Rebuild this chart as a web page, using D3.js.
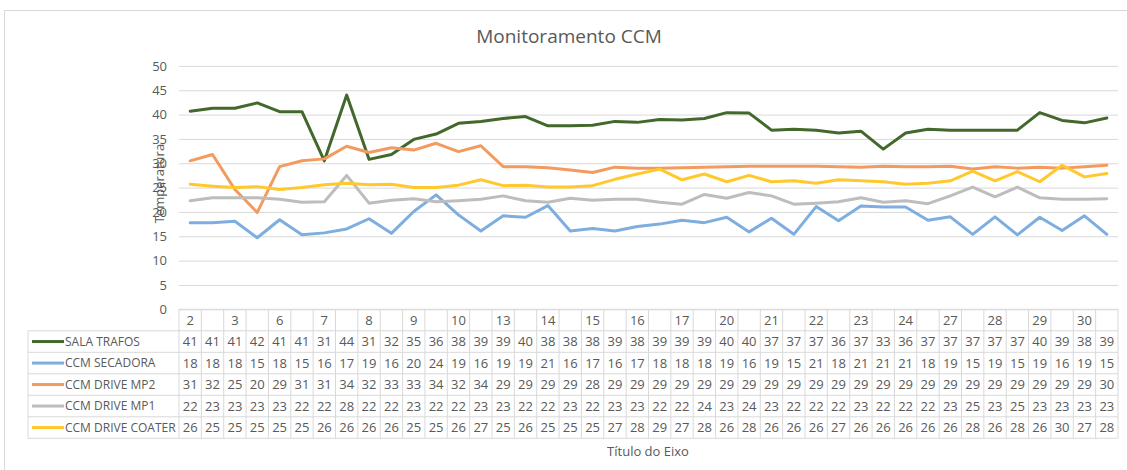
<!DOCTYPE html>
<html>
<head>
<meta charset="utf-8">
<script src="https://cdn.jsdelivr.net/npm/d3@7"></script>
<style>
  body { margin: 0; background: #fff; }
  svg text { font-family: "Open Sans", "Noto Sans", sans-serif; fill: #595959; }
</style>
</head>
<body>
<svg id="chart" width="1127" height="470"></svg>
<script>
// categories (day numbers, every other one blank)
var categories = ["2", "", "3", "", "6", "", "7", "", "8", "", "9", "", "10", "", "13", "", "14", "", "15", "", "16", "",
    "17", "", "20", "", "21", "", "22", "", "23", "", "24", "", "27", "", "28", "", "29", "", "30", ""];

var salaTrafos = [40.7, 41.3, 41.3, 42.4, 40.6, 40.6, 30.5, 44.0, 30.8, 31.8, 34.9, 36.0, 38.2, 38.6, 39.2, 39.6, 37.7, 37.7,
    37.8, 38.6, 38.4, 39.0, 38.9, 39.2, 40.4, 40.3, 36.8, 37.0, 36.8, 36.2, 36.6, 32.9, 36.2, 37.0, 36.8, 36.8, 36.8, 36.8,
    40.4, 38.8, 38.3, 39.3];
var ccmSecadora = [17.8, 17.8, 18.1, 14.7, 18.4, 15.3, 15.7, 16.5, 18.6, 15.6, 20.1, 23.5, 19.4, 16.1, 19.2, 18.9, 21.3, 16.1,
    16.6, 16.1, 17.0, 17.5, 18.3, 17.8, 18.9, 15.9, 18.7, 15.4, 21.1, 18.2, 21.2, 21.0, 21.0, 18.3, 19.0, 15.4, 19.0, 15.3,
    18.9, 16.2, 19.2, 15.4];
var ccmDriveMp2 = [30.5, 31.8, 24.6, 19.9, 29.3, 30.5, 30.9, 33.5, 32.2, 33.2, 32.7, 34.1, 32.4, 33.6, 29.3, 29.3, 29.1, 28.6,
    28.1, 29.2, 29.0, 29.0, 29.1, 29.2, 29.3, 29.4, 29.4, 29.4, 29.4, 29.3, 29.2, 29.4, 29.3, 29.3, 29.4, 28.8, 29.3, 29.0,
    29.2, 29.0, 29.3, 29.6];
var ccmDriveMp1 = [22.3, 22.9, 22.9, 22.9, 22.6, 22.0, 22.1, 27.5, 21.8, 22.4, 22.7, 22.1, 22.3, 22.6, 23.3, 22.3, 22.0, 22.8,
    22.4, 22.6, 22.6, 22.0, 21.6, 23.6, 22.8, 24.0, 23.3, 21.6, 21.8, 22.1, 22.9, 22.0, 22.3, 21.7, 23.3, 25.1, 23.1, 25.1,
    22.9, 22.6, 22.6, 22.7];
var ccmDriveCoater = [25.7, 25.3, 25.0, 25.2, 24.6, 25.0, 25.6, 25.9, 25.6, 25.7, 25.0, 25.0, 25.5, 26.6, 25.4, 25.5, 25.1, 25.1,
    25.4, 26.7, 27.8, 28.8, 26.6, 27.8, 26.2, 27.5, 26.2, 26.4, 25.9, 26.6, 26.4, 26.2, 25.7, 25.9, 26.4, 28.4, 26.4, 28.3,
    26.2, 29.6, 27.2, 27.9];

var seriesNames = ["SALA TRAFOS", "CCM SECADORA", "CCM DRIVE MP2", "CCM DRIVE MP1", "CCM DRIVE COATER"];
var seriesColors = ["#43682b", "#7eaedf", "#f39a5e", "#bdbdbd", "#ffc92e"];
var yTicks = [0, 5, 10, 15, 20, 25, 30, 35, 40, 45, 50];

var svg = d3.select("#chart");
var plotLeft = 179, plotRight = 1118, plotTop = 65.9, plotBottom = 309.3;
var rowH = 21.5;
var legendLeft = 28;

var series = seriesNames.map(function(name, k) {
    return { name: name, color: seriesColors[k],
        values: [salaTrafos, ccmSecadora, ccmDriveMp2, ccmDriveMp1, ccmDriveCoater][k] };
});

var x = d3.scaleBand().domain(d3.range(categories.length)).range([plotLeft, plotRight]);
var y = d3.scaleLinear().domain([0, 50]).range([plotBottom, plotTop]);

// chart area border (cut off on right / bottom)
svg.append("rect")
    .attr("x", 4.5).attr("y", 10.5).attr("width", 1200).attr("height", 600)
    .attr("fill", "none").attr("stroke", "#d9d9d9");

// title
svg.append("text")
    .attr("x", 569).attr("y", 42.5)
    .attr("text-anchor", "middle")
    .style("font-size", "19px")
    .text("Monitoramento CCM");

// y axis + gridlines
var yAxis = d3.axisLeft(y).tickValues(yTicks).tickSize(-(plotRight - plotLeft)).tickPadding(12);
var gy = svg.append("g").attr("transform", "translate(" + plotLeft + ",0)").call(yAxis);
gy.select(".domain").remove();
gy.selectAll(".tick line").attr("stroke", "#d9d9d9");
gy.selectAll(".tick text").style("font-size", "13px").attr("fill", "#595959");

// y axis title (overlapping the tick labels, like the original)
svg.append("text")
    .attr("transform", "translate(164," + ((plotTop + plotBottom) / 2 - 4) + ") rotate(-90)")
    .attr("text-anchor", "middle")
    .style("font-size", "13px")
    .text("Temperatura");

// lines
var line = d3.line()
    .x(function(d, i) { return x(i) + x.bandwidth() / 2; })
    .y(function(d) { return y(d); });

svg.append("g").selectAll("path")
    .data(series)
    .enter()
    .append("path")
    .attr("d", function(d) { return line(d.values); })
    .attr("fill", "none")
    .attr("stroke", function(d) { return d.color; })
    .attr("stroke-width", 3)
    .attr("stroke-linejoin", "round")
    .attr("stroke-linecap", "round");

// data table
var table = svg.append("g");
var tableBottom = plotBottom + rowH * 6;
var gridColor = "#d9d9d9";

// horizontal rules
table.append("line")
    .attr("x1", plotLeft).attr("x2", plotRight)
    .attr("y1", plotBottom).attr("y2", plotBottom)
    .attr("stroke", gridColor);
table.selectAll("line.hrow")
    .data(d3.range(1, 7))
    .enter()
    .append("line")
    .attr("class", "hrow")
    .attr("x1", legendLeft).attr("x2", plotRight)
    .attr("y1", function(r) { return plotBottom + r * rowH; })
    .attr("y2", function(r) { return plotBottom + r * rowH; })
    .attr("stroke", gridColor);

// vertical rules
var vx = d3.range(categories.length + 1).map(function(i) {
    return i < categories.length ? x(i) : x(categories.length - 1) + x.bandwidth();
});
table.selectAll("line.vcol")
    .data(vx)
    .enter()
    .append("line")
    .attr("class", "vcol")
    .attr("x1", function(d) { return d; }).attr("x2", function(d) { return d; })
    .attr("y1", plotBottom).attr("y2", tableBottom)
    .attr("stroke", gridColor);
table.append("line")
    .attr("x1", legendLeft).attr("x2", legendLeft)
    .attr("y1", plotBottom + rowH).attr("y2", tableBottom)
    .attr("stroke", gridColor);

// category header
table.selectAll("text.cat")
    .data(categories)
    .enter()
    .append("text")
    .attr("class", "cat")
    .attr("x", function(d, i) { return x(i) + x.bandwidth() / 2; })
    .attr("y", plotBottom + rowH / 2)
    .attr("dy", "0.35em")
    .attr("text-anchor", "middle")
    .style("font-size", "13px")
    .text(function(d) { return d; });

// series rows
var rows = table.selectAll("g.row")
    .data(series)
    .enter()
    .append("g")
    .attr("class", "row")
    .attr("transform", function(d, k) { return "translate(0," + (plotBottom + (k + 1) * rowH) + ")"; });

rows.append("line")
    .attr("x1", 32).attr("x2", 64)
    .attr("y1", rowH / 2).attr("y2", rowH / 2)
    .attr("stroke", function(d) { return d.color; })
    .attr("stroke-width", 3);

rows.append("text")
    .attr("x", 65)
    .attr("y", rowH / 2)
    .attr("dy", "0.35em")
    .style("font-size", "12px")
    .text(function(d) { return d.name; });

rows.selectAll("text.val")
    .data(function(d) { return d.values; })
    .enter()
    .append("text")
    .attr("class", "val")
    .attr("x", function(d, i) { return x(i) + x.bandwidth() / 2; })
    .attr("y", rowH / 2)
    .attr("dy", "0.35em")
    .attr("text-anchor", "middle")
    .style("font-size", "13px")
    .text(function(d) { return Math.round(d); });

// x axis title
svg.append("text")
    .attr("x", 648).attr("y", 456)
    .attr("text-anchor", "middle")
    .style("font-size", "13px")
    .text("Título do Eixo");
</script>
</body>
</html>
